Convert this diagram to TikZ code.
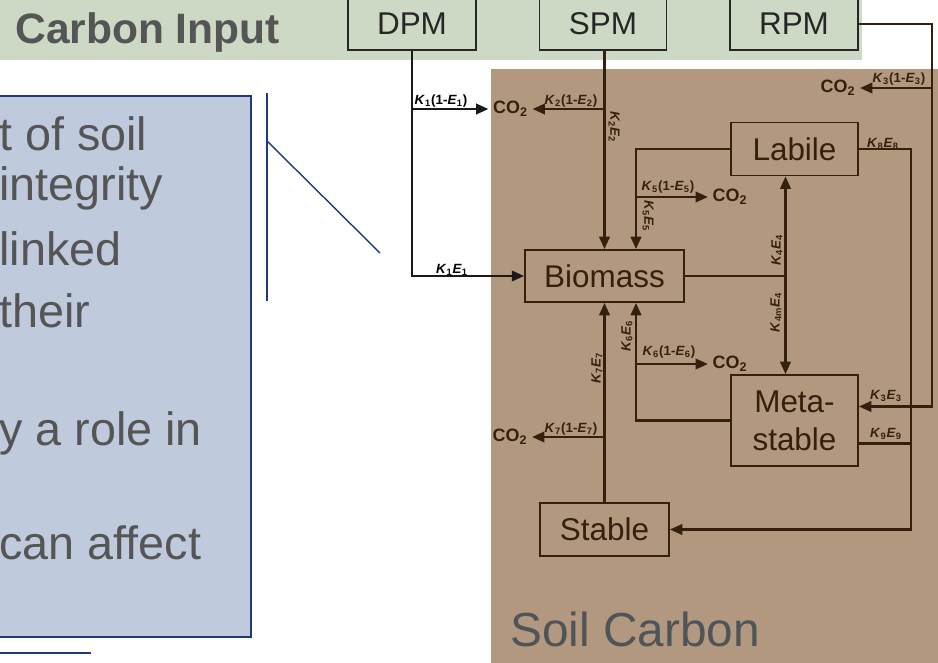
\documentclass[tikz,border=0pt]{standalone}
\usepackage{fontspec}
\setmainfont{Liberation Sans}
\usepackage{tikz}
\usetikzlibrary{arrows.meta,positioning,calc}
\definecolor{inputgreen}{HTML}{CDD9C4}
\definecolor{soilbrown}{HTML}{B2987E}
\definecolor{soildark}{HTML}{35200E}
\definecolor{notesblue}{HTML}{C0CADD}
\definecolor{notesnavy}{HTML}{1F3A7A}
\definecolor{textgrey}{HTML}{555555}
\definecolor{soilgrey}{HTML}{4F5458}
\newcommand{\rateK}[1]{\textit{K}\textsubscript{#1}}
\newcommand{\rateE}[1]{\textit{E}\textsubscript{#1}}
\newcommand{\cotwo}{CO\textsubscript{2}}

\begin{document}
\begin{tikzpicture}[x=0.02cm,y=-0.02cm,
  pool/.style={draw=soildark, line width=1.1pt, inner sep=0pt, text=soildark, align=center, font=\fontsize{17.9}{21.6}\selectfont},
  inpool/.style={pool, draw=black!85, text=black!85, line width=0.9pt},
  flow/.style={draw=soildark, line width=1.2pt, -{Triangle[length=7pt,width=6pt]}},
  inflow/.style={flow, draw=black!90},
  link/.style={draw=soildark, line width=1.2pt},
  rate/.style={text=soildark, inner sep=0pt, font=\fontsize{7.6}{9}\selectfont\bfseries},
  gas/.style={text=soildark, inner sep=2.5pt, font=\fontsize{10.2}{11}\selectfont\bfseries},
  note/.style={anchor=base west, inner sep=0pt, text=textgrey, font=\fontsize{26.6}{32}\selectfont}]

\clip (0,0) rectangle (938,663);

% background panels
\fill[inputgreen] (0,0) rectangle (862,60);
\fill[soilbrown] (491,69) rectangle (940,665);
\filldraw[fill=notesblue, draw=notesnavy, line width=0.6pt] (-10,96) rectangle (251,637);

% clipped slide text
\node[note] (note1) at (-1,150) {t of soil};
\node[note] (note2) at (-1,200) {integrity};
\node[note] (note3) at (-1,265) {linked};
\node[note] (note4) at (-1,327) {their};
\node[note] (note5) at (-1,445) {y a role in};
\node[note] (note6) at (-1,559) {can affect};
\draw[notesnavy, line width=0.8pt] (267,93) -- (267,301);
\draw[notesnavy, line width=0.8pt] (267,141) -- (380,253);
\draw[notesnavy, line width=0.9pt] (-5,653) -- (91,653);

\node[anchor=base west, inner sep=0pt, text=textgrey, font=\fontsize{24.2}{29}\selectfont\bfseries] (carbonin) at (15,43) {Carbon Input};
\node[anchor=base west, inner sep=0pt, text=soilgrey, font=\fontsize{27.2}{32}\selectfont] (soilcarbon) at (510,646) {Soil Carbon};

% input pools
\node[inpool, minimum width=2.56cm, minimum height=1.04cm] (dpm) at (412,24) {DPM};
\node[inpool, minimum width=2.54cm, minimum height=1.04cm] (spm) at (603,24) {SPM};
\node[inpool, minimum width=2.56cm, minimum height=1.04cm] (rpm) at (794,24) {RPM};

% soil pools
\node[pool, minimum width=2.54cm, minimum height=1.06cm] (labile) at (794.5,149) {Labile};
\node[pool, minimum width=3.18cm, minimum height=1.04cm] (biomass) at (604.5,276) {Biomass};
\node[pool, minimum width=2.54cm, minimum height=1.82cm] (meta) at (794.5,420.5) {Meta-\\stable};
\node[pool, minimum width=2.58cm, minimum height=1.06cm] (stable) at (604.5,529.5) {Stable};

% CO2 outlets
\node[gas] (co2a) at (510.5,109) {\cotwo};
\node[gas] (co2c) at (838,88) {\cotwo};
\node[gas] (co2d) at (730,197) {\cotwo};
\node[gas] (co2e) at (730,364) {\cotwo};
\node[gas] (co2f) at (510,437) {\cotwo};

% helper points
\coordinate (b5) at ($(biomass.north)+(31.5,0)$);
\coordinate (b6) at ($(biomass.south)+(31.5,0)$);
\coordinate (k4top) at ($(labile.south)+(-9,0)$);
\coordinate (k4mid) at (k4top |- biomass.east);
\coordinate (rpmcol) at (932,300);
\coordinate (stablecol) at (911,300);
\coordinate (metahigh) at ($(meta.east)+(0,-14)$);
\coordinate (metalow) at ($(meta.east)+(0,23)$);

% DPM
\draw[inflow] (dpm.south) |- (biomass.west);
\draw[inflow] (dpm.south |- co2a) -- (co2a);
\node[rate, text=black] (r1co) at (441,101) {\rateK{1}(1-\rateE{1})};
\node[rate, text=black] (r1bio) at (452,270) {\rateK{1}\rateE{1}};

% SPM
\draw[flow] (biomass.north |- spm.south) -- (biomass.north);
\draw[flow] (biomass.north |- co2a) -- (co2a);
\node[rate] (r2co) at (571,101) {\rateK{2}(1-\rateE{2})};
\node[rate, rotate=-90] (r2bio) at (614,127) {\rateK{2}\rateE{2}};

% RPM
\draw[flow] (rpm.east) -| (rpmcol) |- (metahigh);
\draw[flow] (rpmcol |- co2c) -- (co2c);
\node[rate] (r3co) at (899,79) {\rateK{3}(1-\rateE{3})};
\node[rate] (r3meta) at (886,396) {\rateK{3}\rateE{3}};

% Labile
\draw[flow] (labile.west) -| (b5);
\draw[flow] (b5 |- co2d) -- (co2d);
\node[rate] (r5co) at (668,187) {\rateK{5}(1-\rateE{5})};
\node[rate, rotate=-90] (r5bio) at (648,216) {\rateK{5}\rateE{5}};
\draw[flow] (labile.east) -| (stablecol) |- (stable.east);
\node[rate] (r8) at (883,144) {\rateK{8}\rateE{8}};

% Biomass to Labile and Meta-stable
\draw[link] (biomass.east) -- (k4mid);
\draw[flow] (k4mid) -- (k4top);
\draw[flow] (k4mid) -- (k4mid |- meta.north);
\node[rate, rotate=90] (r4up) at (777,250) {\rateK{4}\rateE{4}};
\node[rate, rotate=90] (r4down) at (776,312) {\rateK{4m}\rateE{4}};

% Meta-stable
\draw[flow] (meta.west) -| (b6);
\draw[flow] (b6 |- co2e) -- (co2e);
\node[rate, rotate=90] (r6bio) at (627,336) {\rateK{6}\rateE{6}};
\node[rate] (r6co) at (669,352) {\rateK{6}(1-\rateE{6})};
\draw[link] (metalow) -- (stablecol |- metalow);
\node[rate] (r9) at (886,434) {\rateK{9}\rateE{9}};

% Stable
\draw[flow] (stable.north) -- (biomass.south);
\draw[flow] (stable.north |- co2f) -- (co2f);
\node[rate, rotate=90] (r7bio) at (597,368) {\rateK{7}\rateE{7}};
\node[rate] (r7co) at (571,429) {\rateK{7}(1-\rateE{7})};
\end{tikzpicture}
\end{document}
